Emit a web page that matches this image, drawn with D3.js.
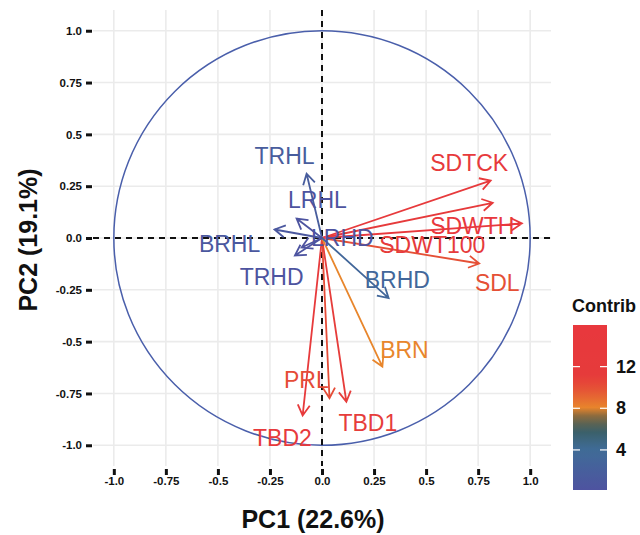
<!DOCTYPE html>
<html>
<head>
<meta charset="utf-8">
<script src="https://cdn.jsdelivr.net/npm/d3@7"></script>
<style>
	body { margin:0 ; background:#fff ; }
	svg text { font-family: "Liberation Sans", Arial, sans-serif ; }
</style>
</head>
<body>
<svg id="chart" width="640" height="535"></svg>
<script>

// variables of the PCA correlation circle
const varNames = [ "SDTCK", "SDWT100", "SDWTH", "SDL", "TBD2", "PRL", "TBD1", "BRN", "BRHD", "TRHL", "LRHL", "BRHL", "TRHD", "LRHD" ] ;
const pc1 = [ 0.81, 0.82, 0.96, 0.755, -0.093, 0.036, 0.117, 0.29, 0.32, -0.074, -0.122, -0.228, -0.13, -0.098 ] ;
const pc2 = [ 0.277, 0.17, 0.07, -0.123, -0.856, -0.773, -0.79, -0.62, -0.29, 0.31, 0.094, 0.041, -0.084, -0.046 ] ;
const contrib = [ 12.6, 12.0, 15.9, 10.0, 12.7, 10.2, 10.9, 8.0, 3.2, 1.7, 0.4, 0.9, 0.4, 0.2 ] ;
// where the labels ended up (data units)
const labelX = [ 0.707, 0.53, 0.722, 0.842, -0.19, -0.075, 0.22, 0.396, 0.362, -0.18, -0.022, -0.444, -0.242, 0.098 ] ;
const labelY = [ 0.364, -0.036, 0.06, -0.219, -0.966, -0.687, -0.894, -0.542, -0.205, 0.398, 0.181, -0.027, -0.19, 0.0 ] ;

const ticks = [ -1.0, -0.75, -0.5, -0.25, 0.0, 0.25, 0.5, 0.75, 1.0 ] ;
const tickLabels = [ "-1.0", "-0.75", "-0.5", "-0.25", "0.0", "0.25", "0.5", "0.75", "1.0" ] ;
const legendTicks = [ 4, 8, 12 ] ;

const svg = d3.select( "#chart" ) ;

const x = d3.scaleLinear().domain( [-1.1, 1.1] ).range( [93, 551] ) ;
const y = d3.scaleLinear().domain( [-1.1, 1.1] ).range( [466, 10] ) ;

const color = d3.scaleLinear()
	.domain( [0.2, 4, 6, 7.3, 8, 9.5, 11, 16] )
	.range( [ "#4e53a0", "#3f6c98", "#3a5e62", "#8e6b3e", "#e8862c", "#e55a34", "#e63b3b", "#e8383d" ] )
	;

/*
	grid
*/
const grid = svg.append( "g" ) ;
grid.selectAll( "line.gx" )
	.data( ticks )
	.enter().append( "line" )
		.attr( "x1", d => x(d) ).attr( "x2", d => x(d) )
		.attr( "y1", y.range()[1] ).attr( "y2", y.range()[0] )
		.attr( "stroke", "#ebebeb" ).attr( "stroke-width", 1.6 )
	;
grid.selectAll( "line.gy" )
	.data( ticks )
	.enter().append( "line" )
		.attr( "y1", d => y(d) ).attr( "y2", d => y(d) )
		.attr( "x1", x.range()[0] ).attr( "x2", x.range()[1] )
		.attr( "stroke", "#ebebeb" ).attr( "stroke-width", 1.6 )
	;

// axis ticks + labels (bold, short thick marks)
const xAxis = d3.axisBottom( x ).tickValues( ticks ).tickFormat( (d,i) => tickLabels[i] ).tickSize( 6 ).tickPadding( 2 ) ;
const gx = svg.append( "g" ).attr( "transform", "translate(0,469)" ).call( xAxis ) ;
const yAxis = d3.axisLeft( y ).tickValues( ticks ).tickFormat( (d,i) => tickLabels[i] ).tickSize( 6 ).tickPadding( 4 ) ;
const gy = svg.append( "g" ).attr( "transform", "translate(92,0)" ).call( yAxis ) ;

[ gx, gy ].forEach( function(g) {
	g.select( ".domain" ).remove() ;
	g.selectAll( "line" ).attr( "stroke", "#111" ).attr( "stroke-width", 3 ) ;
	g.selectAll( "text" )
		.attr( "fill", "#111" )
		.style( "font-size", "11.5px" )
		.style( "font-weight", "bold" )
		.style( "font-family", "'Liberation Sans', Arial, sans-serif" ) ;
}) ;

/*
	correlation circle + dashed axes
*/
svg.append( "ellipse" )
	.attr( "cx", x(0) ).attr( "cy", y(0) )
	.attr( "rx", x(1) - x(0) ).attr( "ry", y(0) - y(1) )
	.attr( "fill", "none" )
	.attr( "stroke", "#4a5fab" )
	.attr( "stroke-width", 1.5 )
	;

svg.append( "line" )
	.attr( "x1", x.range()[0] ).attr( "x2", x.range()[1] )
	.attr( "y1", y(0) ).attr( "y2", y(0) )
	.attr( "stroke", "#111" ).attr( "stroke-width", 2 ).attr( "stroke-dasharray", "6,5" )
	;
svg.append( "line" )
	.attr( "x1", x(0) ).attr( "x2", x(0) )
	.attr( "y1", y.range()[1] ).attr( "y2", y.range()[0] )
	.attr( "stroke", "#111" ).attr( "stroke-width", 2 ).attr( "stroke-dasharray", "6,5" )
	;

/*
	arrows - drawn as a shaft plus an open head
*/
const idx = d3.range( varNames.length ) ;

function arrowPath(i) {
	const x0 = x(0), y0 = y(0) ;
	const x1 = x(pc1[i]), y1 = y(pc2[i]) ;
	const a = Math.atan2( y1 - y0, x1 - x0 ) ;
	const len = 12, spread = Math.PI / 6 ;
	const p = d3.path() ;
	p.moveTo( x0, y0 ) ;
	p.lineTo( x1, y1 ) ;
	p.moveTo( x1 - len * Math.cos( a - spread ), y1 - len * Math.sin( a - spread ) ) ;
	p.lineTo( x1, y1 ) ;
	p.lineTo( x1 - len * Math.cos( a + spread ), y1 - len * Math.sin( a + spread ) ) ;
	return p.toString() ;
}

svg.append( "g" )
	.selectAll( "path" )
	.data( idx )
	.enter().append( "path" )
		.attr( "d", arrowPath )
		.attr( "fill", "none" )
		.attr( "stroke", i => color( contrib[i] ) )
		.attr( "stroke-width", 1.8 )
		.attr( "stroke-linejoin", "miter" )
	;

svg.append( "g" )
	.selectAll( "text" )
	.data( idx )
	.enter().append( "text" )
		.attr( "x", i => x( labelX[i] ) )
		.attr( "y", i => y( labelY[i] ) )
		.attr( "text-anchor", "middle" )
		.attr( "dominant-baseline", "central" )
		.attr( "fill", i => color( contrib[i] ) )
		.style( "font-size", "23px" )
		.text( i => varNames[i] )
	;

/*
	axis titles
*/
svg.append( "text" )
	.attr( "x", 313 ).attr( "y", 528 )
	.attr( "text-anchor", "middle" )
	.style( "font-size", "25px" ).style( "font-weight", "bold" )
	.attr( "fill", "#111" )
	.text( "PC1 (22.6%)" )
	;
svg.append( "text" )
	.attr( "transform", "translate(37,240) rotate(-90)" )
	.attr( "text-anchor", "middle" )
	.style( "font-size", "25px" ).style( "font-weight", "bold" )
	.attr( "fill", "#111" )
	.text( "PC2 (19.1%)" )
	;

/*
	colour bar legend
*/
const ly = d3.scaleLinear().domain( [0.15, 16] ).range( [490, 325] ) ;
const defs = svg.append( "defs" ) ;
const grad = defs.append( "linearGradient" )
	.attr( "id", "contribGrad" )
	.attr( "x1", 0 ).attr( "y1", 1 ).attr( "x2", 0 ).attr( "y2", 0 )
	;
grad.selectAll( "stop" )
	.data( d3.range( 0, 1.0001, 0.05 ) )
	.enter().append( "stop" )
		.attr( "offset", d => d )
		.attr( "stop-color", d => color( ly.domain()[0] + d * ( ly.domain()[1] - ly.domain()[0] ) ) )
	;

svg.append( "rect" )
	.attr( "x", 573 ).attr( "y", ly(16) )
	.attr( "width", 34 ).attr( "height", ly(0.15) - ly(16) )
	.attr( "fill", "url(#contribGrad)" )
	;

const lt = svg.append( "g" ) ;
lt.selectAll( "line.l" )
	.data( legendTicks )
	.enter().append( "line" )
		.attr( "x1", 573 ).attr( "x2", 580 )
		.attr( "y1", d => ly(d) ).attr( "y2", d => ly(d) )
		.attr( "stroke", "#fff" ).attr( "stroke-width", 1.2 )
	;
lt.selectAll( "line.r" )
	.data( legendTicks )
	.enter().append( "line" )
		.attr( "x1", 600 ).attr( "x2", 607 )
		.attr( "y1", d => ly(d) ).attr( "y2", d => ly(d) )
		.attr( "stroke", "#fff" ).attr( "stroke-width", 1.2 )
	;
lt.selectAll( "text" )
	.data( legendTicks )
	.enter().append( "text" )
		.attr( "x", 616 ).attr( "y", d => ly(d) )
		.attr( "dominant-baseline", "central" )
		.style( "font-size", "18px" ).style( "font-weight", "bold" )
		.attr( "fill", "#111" )
		.text( d => d )
	;

svg.append( "text" )
	.attr( "x", 572 ).attr( "y", 312 )
	.style( "font-size", "18px" ).style( "font-weight", "bold" )
	.attr( "fill", "#111" )
	.text( "Contrib" )
	;

</script>
</body>
</html>
